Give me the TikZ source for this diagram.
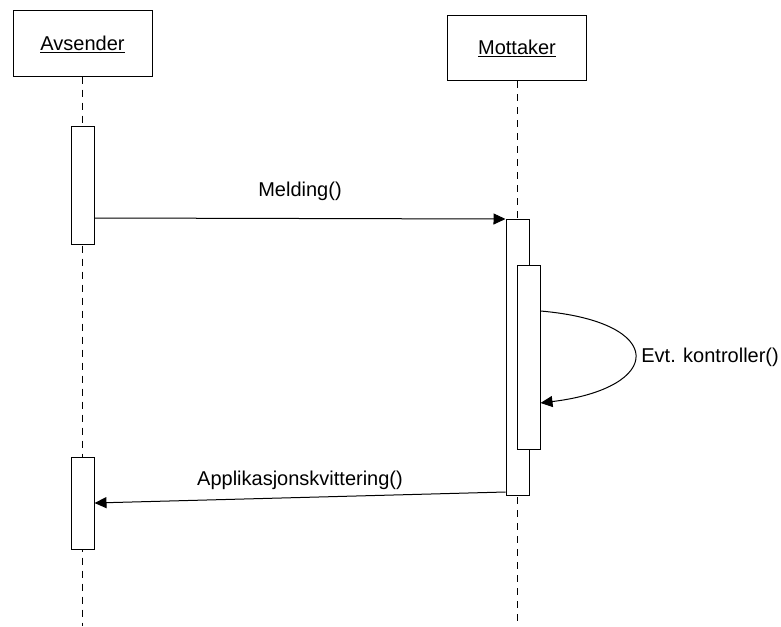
\documentclass[tikz,border=0pt]{standalone}
\usepackage{fontspec}
\setmainfont{Liberation Sans}
\usetikzlibrary{arrows.meta,calc}
\tikzset{
  obj/.style={draw, line width=1pt, fill=white, inner sep=0pt, minimum width=139pt, minimum height=65pt},
  act/.style={draw, line width=1pt, fill=white, inner sep=0pt, minimum width=23pt},
  life/.style={line width=1pt, dash pattern=on 7pt off 6pt},
  msg/.style={line width=1pt, -{Triangle[length=12pt,width=11pt]}},
  lbl/.style={inner sep=0pt, font=\fontsize{20}{23}\selectfont}
}
\begin{document}
\begin{tikzpicture}[x=1pt,y=-1pt]
\useasboundingbox[fill=white] (0,0) rectangle (781,626);
% lifeline ends
\coordinate (aend) at (82.5,626);
\coordinate (mend) at (517,626);
% objects
\node[obj] (av) at (82.5,43.5) {};
\node[lbl] (avt) at (82.5,44) {\underline{Avsender}};
\node[obj] (mo) at (517,48) {};
\node[lbl] (mot) at (517,48.5) {\underline{Mottaker}};
% lifelines
\draw[life] (av.south) -- (aend);
\draw[life] (mo.south) -- (mend);
% activations
\node[act, minimum height=118pt] (a1) at (82.5,185) {};
\node[act, minimum height=92pt] (a2) at (82.5,503) {};
\node[act, minimum height=276pt] (m1) at (517.5,357) {};
\node[act, minimum height=184pt] (m2) at (528.5,357) {};
% messages
\coordinate (s1) at (a1.east |- 0,218);
\coordinate (t1) at (m1.west |- 0,219);
\draw[msg] (s1) -- (t1);
\node[lbl] (l1) at (300,191) {Melding()};
\coordinate (s2) at (m2.east |- 0,311);
\coordinate (t2) at (m2.east |- 0,403);
\draw[msg] (s2) .. controls (668,322) and (664,388) .. (t2);
\node[lbl, anchor=east] (l2) at (779,357) {Evt. kontroller()};
\coordinate (s3) at (m1.west |- 0,492);
\coordinate (t3) at (a2.east |- 0,503);
\draw[msg] (s3) -- (t3);
\node[lbl] (l3) at (300,480) {Applikasjonskvittering()};
\end{tikzpicture}
\end{document}
